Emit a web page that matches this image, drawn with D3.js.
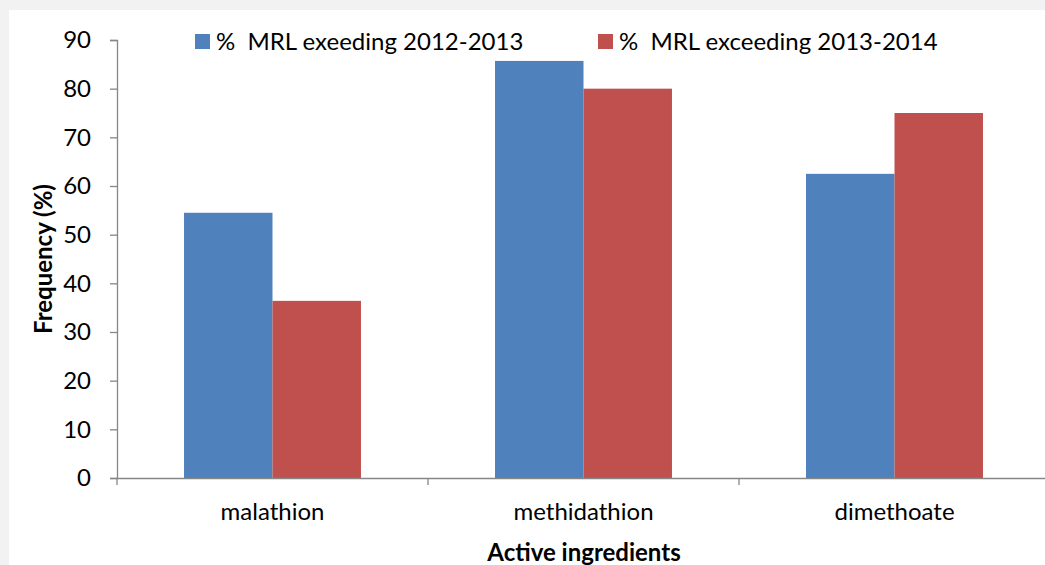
<!DOCTYPE html>
<html><head><meta charset="utf-8">
<script src="https://cdn.jsdelivr.net/npm/d3@7"></script>
<style>body{margin:0;background:#f2f2f2;}svg{display:block;}</style>
</head><body>
<script>
const categories = ["malathion", "methidathion", "dimethoate"];
const seriesNames = ["%  MRL exeeding 2012-2013", "%  MRL exceeding 2013-2014"];
const series2012 = [54.5, 85.7, 62.5];
const series2013 = [36.4, 80, 75];
const yTicks = [0, 10, 20, 30, 40, 50, 60, 70, 80, 90];
const colors = ["#4f81bd", "#c0504d"];

const W = 1045, H = 565;
const font = "Lato, 'Open Sans', sans-serif";
const svg = d3.select("body").append("svg").attr("width", W).attr("height", H);
svg.append("rect").attr("x", 9).attr("y", 10).attr("width", W - 9).attr("height", H - 10).attr("fill", "#fff");

const x0 = d3.scaleBand().domain(categories).range([117, 1050]).paddingInner(0).paddingOuter(0);
const x1 = d3.scaleBand().domain([0, 1]).range([0, x0.bandwidth()]).paddingOuter(0.7575).paddingInner(0);
const y = d3.scaleLinear().domain([0, 90]).range([478, 40]);

const data = [series2012, series2013];
data.forEach((vals, si) => {
  svg.append("g").selectAll("rect").data(vals).join("rect")
    .attr("x", (d, i) => x0(categories[i]) + x1(si))
    .attr("y", d => y(d))
    .attr("width", x1.bandwidth())
    .attr("height", d => y(0) - y(d))
    .attr("fill", colors[si]);
});

const axisColor = "#868686";
const yAxis = svg.append("g").attr("transform", "translate(117,0)")
  .call(d3.axisLeft(y).tickValues(yTicks).tickSize(7).tickPadding(19));
const xAxis = svg.append("g").attr("transform", "translate(0,478)")
  .call(d3.axisBottom(x0).tickSize(0).tickPadding(25));
// category boundary ticks
svg.append("g").selectAll("line").data(categories).join("line")
  .attr("x1", d => x0(d)).attr("x2", d => x0(d))
  .attr("y1", 478).attr("y2", 485).attr("stroke", axisColor).attr("stroke-width", 1.3);

[yAxis, xAxis].forEach(g => {
  g.selectAll("path, line").attr("stroke", axisColor).attr("stroke-width", 1.3);
  g.selectAll("text").attr("font-family", font).attr("font-size", 24).attr("fill", "#000");
});
xAxis.selectAll("text").attr("dy", "0.71em").attr("y", 3);
xAxis.selectAll("text").attr("y", null).attr("dy", null).attr("y", 520 - 478);

svg.append("text").attr("transform", "translate(52,259) rotate(-90)")
  .attr("text-anchor", "middle").attr("font-family", font).attr("font-size", 24)
  .attr("font-weight", "bold").text("Frequency (%)");
svg.append("text").attr("x", 584).attr("y", 561)
  .attr("text-anchor", "middle").attr("font-family", font).attr("font-size", 24)
  .attr("font-weight", "bold").text("Active ingredients");

const legendX = [195, 598];
seriesNames.forEach((n, i) => {
  const g = svg.append("g").attr("transform", `translate(${legendX[i]},34)`);
  g.append("rect").attr("width", 15).attr("height", 15).attr("fill", colors[i]);
  g.append("text").attr("x", 21).attr("y", 16).attr("font-family", font).attr("font-size", 24)
    .attr("fill", "#000").style("white-space", "pre").attr("xml:space", "preserve").text(n);
});
</script>
</body></html>
